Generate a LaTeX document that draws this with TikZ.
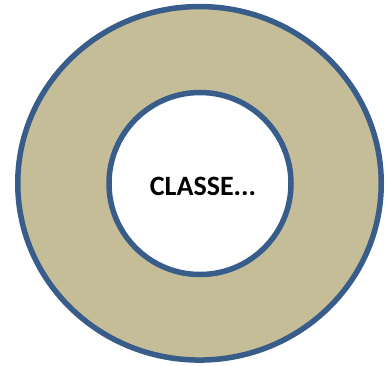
\documentclass[tikz,border=0pt]{standalone}
\usepackage{fontspec}
\setmainfont{Carlito}
\usetikzlibrary{shapes.geometric}
\definecolor{ringtan}{RGB}{196,189,151}
\definecolor{ringblue}{RGB}{56,93,138}

\begin{document}
\begin{tikzpicture}[x=1pt, y=1pt,
    ring/.style={draw=ringblue, line width=5.5pt, inner sep=0pt}]
    \useasboundingbox (0,0) rectangle (390,-365);
    \node[ring, ellipse, fill=ringtan, minimum width=363.5pt,
      minimum height=353.5pt] (outer) at (199.5,-183.3) {};
    \node[ring, circle, fill=white, minimum width=182pt,
      minimum height=181pt] (inner) at (200,-183.5) {};
    \node[font=\fontsize{28}{32}\selectfont\bfseries, inner sep=0pt]
      (classe) at (203,-186) {CLASSE...};
  \end{tikzpicture}
\end{document}
